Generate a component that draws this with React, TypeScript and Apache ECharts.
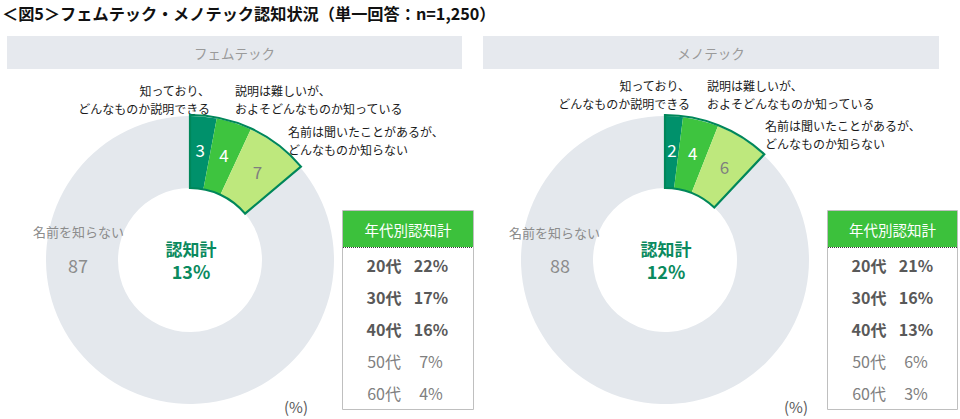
import React, { useEffect, useRef } from "react";
import * as echarts from "echarts";

// ---- data ----
const title = "＜図5＞フェムテック・メノテック認知状況（単一回答：n=1,250）";
const panelNames = ["フェムテック", "メノテック"];
const categories = [
  "知っており、\nどんなものか説明できる",
  "説明は難しいが、\nおよそどんなものか知っている",
  "名前は聞いたことがあるが、\nどんなものか知らない",
  "名前を知らない",
];
const femtechValues = [3, 4, 7, 87];
const menotechValues = [2, 4, 6, 88];
const awarenessTotals = [13, 12];
const ageGroups = ["20代", "30代", "40代", "50代", "60代"];
const femtechByAge = [22, 17, 16, 7, 4];
const menotechByAge = [21, 16, 13, 6, 3];
const tableTitle = "年代別認知計";
const centerTitle = "認知計";
const unitLabel = "(%)";

// ---- styles / layout ----
const FONT = '"Noto Sans CJK JP", "Noto Sans", sans-serif';
const sliceColors = ["#00916B", "#3EC43F", "#BEE87D", "#E4E8ED"];
const labelColors = ["#ffffff", "#ffffff", "#7f7f7f", "#8c8c8c"];
const outlineColor = "#00875A";
const green = "#0A8A5E";

const panels = [
  {
    values: femtechValues,
    byAge: femtechByAge,
    cx: 190,
    cy: 260,
    header: { x: 7, w: 455 },
    table: { x: 342, w: 131 },
    lab0: { x: 210, y: 90 },
    lab1: { x: 235, y: 90 },
    lab2: { x: 288, y: 131 },
    restLab: { x: 124, y: 231 },
    restVal: { x: 78, y: 265 },
    unit: { x: 296 },
  },
  {
    values: menotechValues,
    byAge: menotechByAge,
    cx: 665,
    cy: 260,
    header: { x: 483, w: 456 },
    table: { x: 827, w: 130 },
    lab0: { x: 690, y: 85 },
    lab1: { x: 707, y: 85 },
    lab2: { x: 765, y: 125 },
    restLab: { x: 600, y: 232 },
    restVal: { x: 560, y: 265 },
    unit: { x: 796 },
  },
];

function buildOption() {
  const series: any[] = [];
  const graphic: any[] = [];

  graphic.push({
    type: "text",
    left: 2,
    top: 5,
    style: { text: title, font: `bold 16.2px ${FONT}`, fill: "#111111" },
  });

  panels.forEach((p, pi) => {
    const { values } = p;
    series.push({
      type: "pie",
      center: [p.cx, p.cy],
      radius: [72, 144],
      startAngle: 90,
      clockwise: true,
      silent: true,
      itemStyle: { borderWidth: 0 },
      labelLine: { show: false },
      data: values.map((v, i) => ({
        name: categories[i],
        value: v,
        itemStyle: { color: sliceColors[i] },
        label: {
          show: i < 3,
          position: "inside",
          formatter: "{c}",
          color: labelColors[i],
          fontSize: 17,
          fontFamily: FONT,
        },
      })),
    });
    const aware = values.slice(0, 3).reduce((a, b) => a + b, 0);
    series.push({
      type: "pie",
      center: [p.cx, p.cy],
      radius: [72, 145],
      startAngle: 90,
      clockwise: true,
      silent: true,
      z: 3,
      label: { show: false },
      labelLine: { show: false },
      data: [
        {
          value: aware,
          itemStyle: {
            color: "rgba(0,0,0,0)",
            borderColor: outlineColor,
            borderWidth: 2.2,
            borderJoin: "miter",
          },
        },
        {
          value: values[3],
          itemStyle: { color: "rgba(0,0,0,0)", borderWidth: 0 },
        },
      ],
    });

    // header bar
    graphic.push({
      type: "rect",
      shape: { x: p.header.x, y: 36, width: p.header.w, height: 33 },
      style: { fill: "#E6E9EE" },
    });
    graphic.push({
      type: "text",
      x: p.header.x + p.header.w / 2,
      y: 53,
      style: {
        text: panelNames[pi],
        font: `13.5px ${FONT}`,
        fill: "#9a9a9a",
        textAlign: "center",
        textVerticalAlign: "middle",
      },
    });

    // category labels
    const lh = 18;
    const labs = [
      { pos: p.lab0, align: "right" },
      { pos: p.lab1, align: "left" },
      { pos: p.lab2, align: "left" },
    ];
    labs.forEach((l, i) => {
      graphic.push({
        type: "text",
        x: l.pos.x,
        y: l.pos.y - lh / 2,
        style: {
          text: categories[i],
          font: `12px ${FONT}`,
          fill: "#1a1a1a",
          textAlign: l.align,
          textVerticalAlign: "top",
          lineHeight: lh,
        },
      });
    });
    graphic.push({
      type: "text",
      x: p.restLab.x,
      y: p.restLab.y,
      z: 10,
      style: {
        text: categories[3],
        font: `13px ${FONT}`,
        fill: "#8c8c8c",
        textAlign: "right",
        textVerticalAlign: "middle",
      },
    });
    graphic.push({
      type: "text",
      x: p.restVal.x,
      y: p.restVal.y,
      z: 10,
      style: {
        text: String(values[3]),
        font: `18px ${FONT}`,
        fill: "#8c8c8c",
        textAlign: "center",
        textVerticalAlign: "middle",
      },
    });

    // center text
    graphic.push({
      type: "text",
      x: p.cx + 1,
      y: 248,
      z: 10,
      style: {
        text: centerTitle,
        font: `bold 17px ${FONT}`,
        fill: green,
        textAlign: "center",
        textVerticalAlign: "middle",
      },
    });
    graphic.push({
      type: "text",
      x: p.cx + 1,
      y: 271,
      z: 10,
      style: {
        text: `${awarenessTotals[pi]}%`,
        font: `bold 18px ${FONT}`,
        fill: green,
        textAlign: "center",
        textVerticalAlign: "middle",
      },
    });

    // table
    const tx = p.table.x;
    const tw = p.table.w;
    graphic.push({
      type: "rect",
      z: 10,
      shape: { x: tx + 0.5, y: 210.5, width: tw, height: 199 },
      style: { fill: "#ffffff", stroke: "#BFBFBF", lineWidth: 1 },
    });
    graphic.push({
      type: "rect",
      z: 11,
      shape: { x: tx + 1, y: 211, width: tw - 1, height: 36 },
      style: { fill: "#3CC13C" },
    });
    graphic.push({
      type: "line",
      z: 12,
      shape: { x1: tx + 1, y1: 247.5, x2: tx + tw, y2: 247.5 },
      style: { stroke: "#3a3a3a", lineWidth: 1, lineDash: [1, 1] },
    });
    graphic.push({
      type: "text",
      z: 12,
      x: tx + tw / 2 + 0.5,
      y: 229,
      style: {
        text: tableTitle,
        font: `14.5px ${FONT}`,
        fill: "#ffffff",
        textAlign: "center",
        textVerticalAlign: "middle",
      },
    });
    ageGroups.forEach((ag, i) => {
      const bold = i < 3;
      const y = 265 + i * 32;
      const font = `${bold ? "bold " : ""}16px ${FONT}`;
      const fill = bold ? "#595959" : "#808080";
      graphic.push({
        type: "text",
        z: 12,
        x: tx + 42,
        y,
        style: { text: ag, font, fill, textAlign: "center", textVerticalAlign: "middle" },
      });
      graphic.push({
        type: "text",
        z: 12,
        x: tx + 89,
        y,
        style: {
          text: `${p.byAge[i]}%`,
          font,
          fill,
          textAlign: "center",
          textVerticalAlign: "middle",
        },
      });
    });

    // unit
    graphic.push({
      type: "text",
      x: p.unit.x,
      y: 406,
      style: {
        text: unitLabel,
        font: `15px ${FONT}`,
        fill: "#595959",
        textAlign: "center",
        textVerticalAlign: "middle",
      },
    });
  });

  return {
    animation: false,
    backgroundColor: "#ffffff",
    textStyle: { fontFamily: FONT },
    series,
    graphic,
  };
}

export default function App() {
  const ref = useRef<HTMLDivElement>(null);
  useEffect(() => {
    if (!ref.current) return;
    const chart = echarts.init(ref.current, undefined, { renderer: "svg" });
    chart.setOption(buildOption() as any);
    return () => chart.dispose();
  }, []);
  return (
    <div
      ref={ref}
      style={{ position: "absolute", left: 0, top: 0, width: 960, height: 419 }}
    />
  );
}
